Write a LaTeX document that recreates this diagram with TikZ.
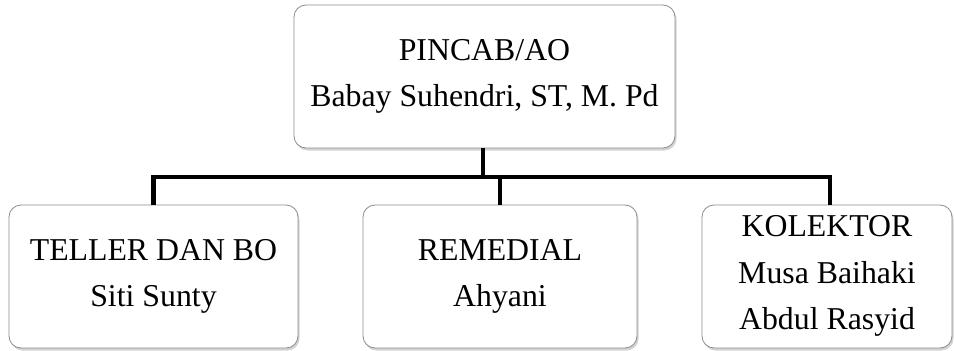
\documentclass[tikz,border=0pt]{standalone}
\usepackage{fontspec}
\setmainfont{Liberation Serif}
\usetikzlibrary{shadows}
\begin{document}
\begin{tikzpicture}[x=1pt,y=-1pt,
  box/.style={draw=black!45, line width=0.8pt, fill=white, rounded corners=12pt,
    inner sep=0pt, align=center,
    font=\fontsize{31.8}{46.5}\selectfont,
    drop shadow={opacity=0.35, shadow xshift=1.5pt, shadow yshift=-2.5pt}},
  conn/.style={line width=4.5pt, black}]
\useasboundingbox (0,0) rectangle (954,351);
\node[box, minimum width=381pt, minimum height=143pt] (top) at (484.5,76.5)
  {PINCAB/AO\\Babay Suhendri, ST, M. Pd};
\node[box, minimum width=289pt, minimum height=143pt] (teller) at (153.5,276.5)
  {TELLER DAN BO\\Siti Sunty};
\node[box, minimum width=274pt, minimum height=143pt] (remedial) at (500,276.5)
  {REMEDIAL\\Ahyani};
\node[box, minimum width=250pt, minimum height=143pt, text depth=8pt] (kolektor) at (827,276.5)
  {KOLEKTOR\\Musa Baihaki\\Abdul Rasyid};
\coordinate (j) at (483,177);
\draw[conn] ([xshift=-1.5pt]top.south) -- (j);
\draw[conn] (teller.north) |- (j) -| ([xshift=3pt]kolektor.north);
\draw[conn] (remedial.north) -- (remedial.north |- j);
\end{tikzpicture}
\end{document}
